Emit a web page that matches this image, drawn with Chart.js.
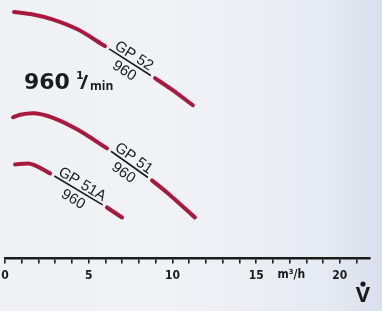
<!DOCTYPE html>
<html>
<head>
<meta charset="utf-8">
<script src="https://cdn.jsdelivr.net/npm/chart.js@4.4.0/dist/chart.umd.min.js"></script>
<style>
  html, body { margin: 0; padding: 0; }
  body {
    width: 382px; height: 311px; overflow: hidden;
    background: linear-gradient(to right, #eff1f4 0%, #f1f2f6 45%, #e6eaf2 85%, #d9dfec 100%);
  }
  #wrap { position: relative; width: 382px; height: 311px; }
</style>
</head>
<body>
<div id="wrap"><canvas id="c" width="382" height="311"></canvas></div>
<script>
// Flow rate (m³/h) and head values; null marks the label gap.
const flowGP52 = [0.54, 1.67, 2.87, 4.30, 5.97, 7.5, 8.96, 9.85, 11.22];
const headGP52 = [24.6, 24.35, 23.85, 22.9, 21.2, null, 18.0, 17.0, 15.3];
const flowGP51 = [0.48, 0.90, 1.67, 2.87, 4.30, 6.09, 7.4, 8.78, 9.67, 11.34];
const headGP51 = [14.1, 14.35, 14.5, 14.05, 12.9, 11.0, null, 7.8, 6.6, 4.1];
const flowGP51A = [0.60, 1.37, 2.69, 4.4, 6.09, 6.99];
const headGP51A = [9.4, 9.5, 8.5, null, 5.1, 4.1];
const seriesNames = ['GP 52', 'GP 51', 'GP 51A'];
const speedLabel = '960';
const xTickLabels = [0, 5, 10, 15, 20];
const unitLabel = 'm³/h';
const axisTitle = 'V';
const speedTitle = '960';

const RED = '#a8183f';
const INK = '#1b1b1b';

function pts(xs, ys) { return xs.map((x, i) => ({ x: x, y: ys[i] })); }

function mkSet(label, xs, ys) {
  return {
    label: label, data: pts(xs, ys),
    borderColor: RED, borderWidth: 4, borderCapStyle: 'round', borderJoinStyle: 'round',
    pointRadius: 0, cubicInterpolationMode: 'monotone', spanGaps: false, fill: false
  };
}

const labelPlugin = {
  id: 'curveLabels',
  afterDatasetsDraw(chart) {
    const ctx = chart.ctx;
    const xs = chart.scales.x, ys = chart.scales.y;
    chart.data.datasets.forEach((ds, di) => {
      const d = ds.data;
      const gi = d.findIndex(p => p.y === null);
      if (gi < 1) return;
      const a = d[gi - 1], b = d[gi + 1];
      const ax = xs.getPixelForValue(a.x), ay = ys.getPixelForValue(a.y);
      const bx = xs.getPixelForValue(b.x), by = ys.getPixelForValue(b.y);
      const mx = (ax + bx) / 2, my = (ay + by) / 2;
      const ang = Math.atan2(by - ay, bx - ax);
      const len = Math.hypot(bx - ax, by - ay);
      ctx.save();
      ctx.translate(mx, my);
      ctx.rotate(ang);
      ctx.strokeStyle = INK;
      ctx.lineWidth = 1.6;
      ctx.beginPath();
      ctx.moveTo(-len / 2 + 5, 0);
      ctx.lineTo(len / 2 - 5, 0);
      ctx.stroke();
      ctx.fillStyle = INK;
      ctx.font = '15px "Liberation Sans", Arial, sans-serif';
      ctx.textAlign = 'center';
      ctx.textBaseline = 'alphabetic';
      ctx.fillText(seriesNames[di], 0, -3);
      ctx.textBaseline = 'top';
      ctx.fillText(speedLabel, 0, 3);
      ctx.restore();
    });

    // speed annotation
    ctx.save();
    ctx.fillStyle = INK;
    ctx.textBaseline = 'alphabetic';
    ctx.textAlign = 'left';
    ctx.font = 'bold 22px "DejaVu Sans", sans-serif';
    ctx.fillText(speedTitle, 24, 89);
    ctx.font = 'bold 11px "DejaVu Sans", sans-serif';
    ctx.fillText('1', 76, 79);
    ctx.font = 'bold 20px "Open Sans", Lato, sans-serif';
    ctx.fillText('/', 80, 89);
    ctx.font = 'bold 12px "Open Sans", Lato, sans-serif';
    ctx.fillText('min', 90, 90);

    // unit label
    const ux = xs.getPixelForValue(17.1);
    ctx.font = 'bold 12px "DejaVu Sans Condensed", "DejaVu Sans", sans-serif';
    ctx.textAlign = 'center';
    ctx.textBaseline = 'middle';
    ctx.fillText(unitLabel, ux, 275);

    // flow symbol V with dot
    ctx.font = 'bold 22px "Open Sans", "DejaVu Sans", sans-serif';
    ctx.textAlign = 'center';
    ctx.textBaseline = 'alphabetic';
    ctx.fillText(axisTitle, 363, 302);
    ctx.beginPath();
    ctx.arc(363, 284, 2.6, 0, Math.PI * 2);
    ctx.fill();
    ctx.restore();
  }
};

new Chart(document.getElementById('c'), {
  type: 'line',
  data: {
    datasets: [
      mkSet(seriesNames[0], flowGP52, headGP52),
      mkSet(seriesNames[1], flowGP51, headGP51),
      mkSet(seriesNames[2], flowGP51A, headGP51A)
    ]
  },
  options: {
    responsive: false, animation: false, devicePixelRatio: 1,
    layout: { padding: { left: 5, right: 12, top: 0, bottom: 23 } },
    plugins: { legend: { display: false }, tooltip: { enabled: false } },
    scales: {
      x: {
        type: 'linear', min: 0, max: 21.8,
        afterFit: s => { s.paddingLeft = 0; s.paddingRight = 0; },
        border: { display: true, color: INK, width: 2.5 },
        grid: { drawOnChartArea: false, drawTicks: true, tickLength: 5, color: INK, lineWidth: 1.6 },
        ticks: {
          stepSize: 1, autoSkip: false, includeBounds: false, maxRotation: 0, padding: 5,
          color: INK,
          font: { family: '"DejaVu Sans Condensed", "DejaVu Sans", sans-serif', size: 12, weight: 'bold' },
          callback: v => xTickLabels.includes(v) ? String(v) : ''
        }
      },
      y: { type: 'linear', display: false, min: 0, max: 25.8 }
    }
  },
  plugins: [labelPlugin]
});
</script>
</body>
</html>
